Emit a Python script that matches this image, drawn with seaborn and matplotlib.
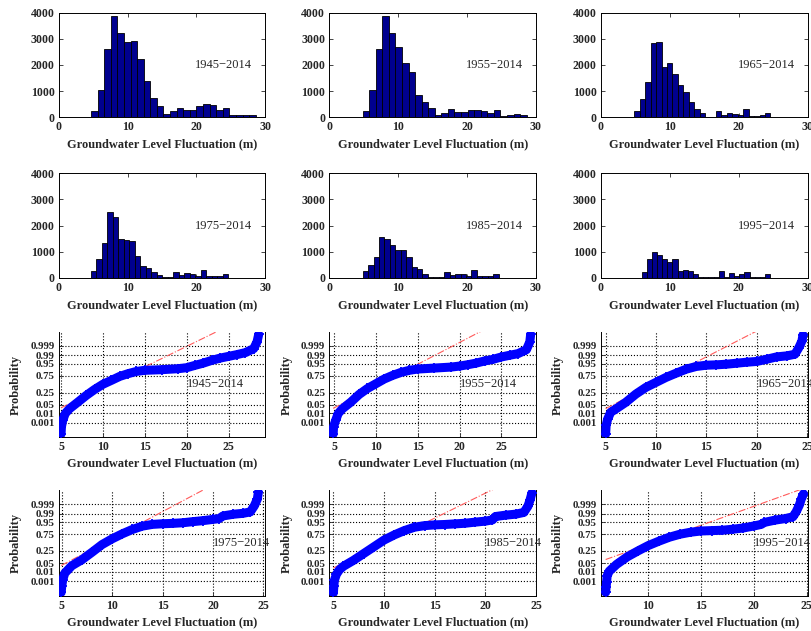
import numpy as np
import pandas as pd
import matplotlib
matplotlib.use("Agg")
import matplotlib.pyplot as plt
import seaborn as sns
from statistics import NormalDist

sns.set_theme(style="ticks")
plt.rcParams["font.family"] = ["Liberation Serif", "DejaVu Serif"]
plt.rcParams["font.weight"] = "bold"
plt.rcParams["axes.labelweight"] = "bold"

periods = ["1945\u22122014", "1955\u22122014", "1965\u22122014",
           "1975\u22122014", "1985\u22122014", "1995\u22122014"]

# histogram counts (equal-width bins between bin_start and bin_stop)
counts_1945 = [255, 1045, 2610, 3870, 3210, 2866, 2930, 2230, 1390, 750, 433, 127, 255,
               344, 280, 280, 433, 510, 459, 280, 370, 102, 102, 102, 76]
counts_1955 = [255, 1045, 2610, 3870, 3210, 2675, 2064, 1720, 840, 600, 344, 76, 153,
               306, 191, 191, 280, 280, 242, 166, 280, 51, 76, 127, 76]
counts_1965 = [242, 713, 1340, 2830, 2880, 1936, 2064, 1656, 1223, 955, 586, 331, 153,
               0, 0, 242, 76, 153, 127, 76, 306, 51, 38, 76, 153]
counts_1975 = [255, 726, 1325, 2510, 2318, 1490, 1452, 1400, 840, 433, 382, 229, 115,
               25, 25, 229, 89, 166, 140, 64, 280, 64, 64, 64, 140]
counts_1985 = [255, 497, 803, 1580, 1478, 1261, 1070, 1070, 790, 408, 344, 153, 25,
               25, 25, 229, 89, 153, 127, 64, 280, 64, 64, 64, 140]
counts_1995 = [240, 710, 1005, 865, 710, 610, 705, 270, 305, 272, 160, 20, 20,
               20, 20, 275, 40, 185, 80, 135, 220, 20, 45, 45, 135]
bin_start = [4.69, 4.84, 4.84, 4.69, 4.84, 5.90]
bin_stop = [28.60, 28.64, 24.60, 24.58, 24.58, 24.55]

# normal probability plots: fluctuation (m) vs standard normal quantile
x_1945 = [5.0, 5.05, 5.2, 5.5, 6, 7, 8, 9, 10, 11, 12, 13, 14, 15, 17, 19, 20, 21, 22,
          23, 24, 25, 26, 27, 28, 28.4, 28.6]
z_1945 = [-4.0, -3.4, -2.9, -2.35, -1.97, -1.44, -0.9, -0.42, 0.0, 0.31, 0.63, 0.85, 1.03,
          1.12, 1.17, 1.25, 1.33, 1.52, 1.7, 1.92, 2.1, 2.24, 2.38, 2.54, 2.86, 3.4, 4.0]
x_1955 = [4.9, 4.95, 5.2, 5.5, 6, 7, 8, 9, 10, 11, 12, 13, 14, 15, 17, 19, 20, 21, 22,
          23, 24, 25, 26, 27, 28, 28.4, 28.5]
z_1955 = [-4.0, -3.4, -2.9, -2.35, -1.97, -1.44, -0.82, -0.34, 0.04, 0.42, 0.71, 0.95, 1.12,
          1.22, 1.3, 1.38, 1.46, 1.57, 1.7, 1.87, 2.0, 2.19, 2.33, 2.46, 2.78, 3.4, 4.0]
x_1965 = [5.0, 5.05, 5.2, 5.5, 6, 7, 8, 9, 10, 11, 12, 13, 14, 15, 16, 17, 18, 19, 20,
          21, 22, 23, 23.8, 24.2, 24.5, 24.6]
z_1965 = [-4.0, -3.3, -2.8, -2.25, -1.99, -1.45, -0.79, -0.25, 0.15, 0.55, 0.89, 1.21, 1.43,
          1.53, 1.56, 1.61, 1.69, 1.77, 1.83, 2.01, 2.2, 2.28, 2.41, 2.95, 3.48, 3.96]
x_1975 = [4.95, 5.0, 5.1, 5.3, 6, 7, 8, 9, 10, 11, 12, 13, 14, 15, 16, 17, 18, 19, 20,
          20.6, 21, 22, 23, 23.7, 24.1, 24.4, 24.5]
z_1975 = [-4.0, -3.5, -3.0, -2.46, -1.86, -1.38, -0.78, -0.16, 0.3, 0.7, 1.05, 1.32, 1.46,
          1.51, 1.54, 1.59, 1.68, 1.76, 1.86, 1.92, 2.14, 2.27, 2.35, 2.46, 2.95, 3.49, 4.03]
x_1985 = [5.0, 5.05, 5.1, 5.3, 5.6, 6, 7, 8, 9, 10, 11, 12, 13, 14, 15, 16, 17, 18, 19,
          20, 20.7, 21, 22, 23, 23.8, 24.2, 24.4, 24.6]
z_1985 = [-4.05, -3.5, -3.04, -2.55, -2.18, -1.9, -1.42, -0.88, -0.34, 0.2, 0.61, 0.96, 1.23,
          1.36, 1.42, 1.45, 1.5, 1.55, 1.64, 1.72, 1.82, 2.09, 2.2, 2.28, 2.42, 2.91, 3.39, 3.99]
x_1995 = [5.96, 6.0, 6.05, 6.1, 6.3, 7, 8, 9, 10, 11, 12, 13, 14, 15, 16, 17, 18, 19, 20,
          20.7, 21, 22, 23, 23.7, 24, 24.3, 24.5, 24.7]
z_1995 = [-3.99, -3.6, -3.2, -2.67, -2.3, -1.75, -1.15, -0.68, -0.24, 0.11, 0.43, 0.67, 0.83,
          0.93, 0.96, 0.99, 1.07, 1.17, 1.33, 1.46, 1.62, 1.8, 1.93, 2.07, 2.46, 2.99, 3.51, 3.91]

# first and third quartiles defining each reference line
q1 = [8.70, 8.50, 8.08, 7.67, 8.41, 8.22]
q3 = [12.80, 12.35, 11.33, 10.80, 11.78, 12.65]
prob_xlim = [(4.72, 29.4), (4.44, 29.14), (4.54, 25.07), (4.70, 25.2), (4.60, 25.0), (5.52, 25.1)]
prob_ticks = [0.001, 0.01, 0.05, 0.25, 0.75, 0.95, 0.99, 0.999]
prob_tick_labels = ["0.001", "0.01", "0.05", "0.25", "0.75", "0.95", "0.99", "0.999"]

hist_counts = [counts_1945, counts_1955, counts_1965, counts_1975, counts_1985, counts_1995]
prob_x = [x_1945, x_1955, x_1965, x_1975, x_1985, x_1995]
prob_z = [z_1945, z_1955, z_1965, z_1975, z_1985, z_1995]

W, H = 812, 631
fig = plt.figure(figsize=(W / 100, H / 100), dpi=100)


def axes_px(left, top, width, height):
    return fig.add_axes([left / W, 1 - (top + height) / H, width / W, height / H])


col_left = [58.7, 329.3, 601.0]
col_width = 206.7
hist_top = [12.7, 173.3]
hist_height = 104.5
prob_top = [331.7, 490.0]
prob_height = 105.5

FS_TICK = 8.6
FS_LABEL = 8.9
FS_NOTE = 9.0
xlabel = "Groundwater Level Fluctuation (m)"
navy = (0, 0, 0.5625)

for i in range(6):
    r, c = divmod(i, 3)
    ax = axes_px(col_left[c], hist_top[r], col_width, hist_height)
    counts = hist_counts[i]
    edges = [float(e) for e in np.linspace(bin_start[i], bin_stop[i], len(counts) + 1)]
    centers = [0.5 * (a + b) for a, b in zip(edges[:-1], edges[1:])]
    df = pd.DataFrame({"level": centers, "count": counts})
    sns.histplot(data=df, x="level", weights="count", bins=edges, ax=ax,
                 color=navy, edgecolor="black", linewidth=0.6, alpha=1.0)
    ax.set_xlim(0, 30)
    ax.set_ylim(0, 4000)
    ax.set_xticks([0, 10, 20, 30])
    ax.set_yticks([0, 1000, 2000, 3000, 4000])
    ax.set_xlabel(xlabel, fontsize=FS_LABEL, fontweight="bold", labelpad=3.5)
    ax.set_ylabel("")
    ax.tick_params(direction="in", length=3, width=0.6, labelsize=FS_TICK,
                   top=True, right=True, pad=3)
    for s in ax.spines.values():
        s.set_linewidth(0.7)
        s.set_color("black")
    ax.text(19.8, 2000, periods[i], fontsize=FS_NOTE, fontweight="normal",
            va="center", ha="left")
    for lab in ax.get_xticklabels() + ax.get_yticklabels():
        lab.set_fontweight("bold")

zticks = [NormalDist().inv_cdf(p) for p in prob_ticks]
for i in range(6):
    r, c = divmod(i, 3)
    ax = axes_px(col_left[c], prob_top[r], col_width, prob_height)
    xs, zs = prob_x[i], prob_z[i]
    z25, z75 = NormalDist().inv_cdf(0.25), NormalDist().inv_cdf(0.75)
    slope = (z75 - z25) / (q3[i] - q1[i])
    ref = pd.DataFrame({"x": [xs[0], xs[-1]],
                        "z": [z25 + slope * (xs[0] - q1[i]), z25 + slope * (xs[-1] - q1[i])]})
    sns.lineplot(data=ref, x="x", y="z", ax=ax, color="#ff5a5a", linewidth=0.8,
                 linestyle="-.", zorder=1)
    pts = pd.DataFrame({"x": xs, "z": zs})
    sns.lineplot(data=pts, x="x", y="z", ax=ax, sort=False, estimator=None,
                 color=(0, 0, 1), linewidth=6.5, solid_capstyle="round", zorder=3)
    sns.scatterplot(data=pts, x="x", y="z", ax=ax, marker="+", s=60, color=(0, 0, 1),
                    linewidth=1.3, zorder=4)
    ax.set_xlim(*prob_xlim[i])
    ax.set_ylim(-4.25, 4.22)
    ax.set_xticks([t for t in [5, 10, 15, 20, 25] if prob_xlim[i][0] <= t <= prob_xlim[i][1]])
    ax.set_yticks(zticks)
    ax.set_yticklabels(prob_tick_labels)
    ax.grid(True, linestyle=":", color="black", linewidth=0.8)
    ax.set_axisbelow(True)
    ax.set_xlabel(xlabel, fontsize=FS_LABEL, fontweight="bold", labelpad=3)
    ax.set_ylabel("Probability", fontsize=FS_LABEL, fontweight="bold", labelpad=6)
    ax.tick_params(axis="x", direction="in", length=3, width=0.6, labelsize=FS_TICK, pad=3)
    ax.tick_params(axis="y", direction="in", length=3, width=0.6, labelsize=7.8, pad=3)
    ax.spines["top"].set_visible(False)
    for s in ["left", "right", "bottom"]:
        ax.spines[s].set_linewidth(0.7)
        ax.spines[s].set_color("black")
    ax.text(20.0, 0.0, periods[i], fontsize=FS_NOTE, fontweight="normal",
            va="center", ha="left", zorder=5)
    for lab in ax.get_xticklabels() + ax.get_yticklabels():
        lab.set_fontweight("bold")

fig.savefig("out.png", dpi=100)
